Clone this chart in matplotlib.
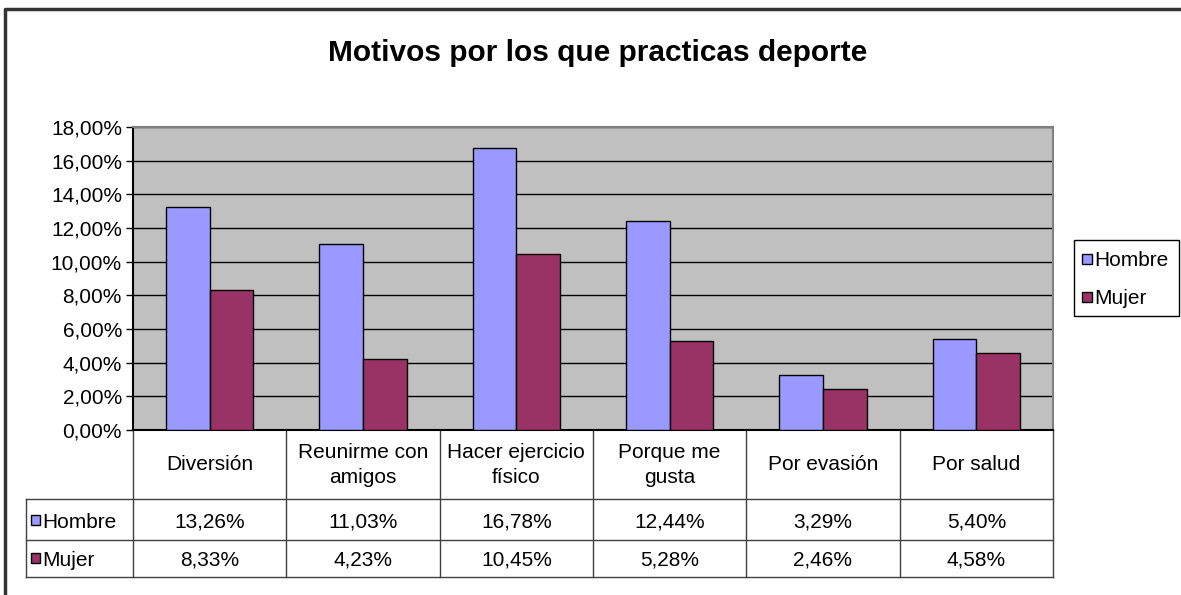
import matplotlib
matplotlib.use("Agg")
import matplotlib.pyplot as plt
from matplotlib.patches import Rectangle

plt.rcParams['font.family'] = ['Liberation Sans', 'DejaVu Sans']

# data
categorias = ["Diversión", "Reunirme con\namigos", "Hacer ejercicio\nfísico",
              "Porque me\ngusta", "Por evasión", "Por salud"]
series = ["Hombre", "Mujer"]
hombre = [13.26, 11.03, 16.78, 12.44, 3.29, 5.40]
mujer = [8.33, 4.23, 10.45, 5.28, 2.46, 4.58]
colores = ['#9999FF', '#993366']
yticks = [0, 2, 4, 6, 8, 10, 12, 14, 16, 18]

fs = 15
W, H = 1181, 595
fig = plt.figure(figsize=(W / 100, H / 100), dpi=100)
fig.patch.set_facecolor('white')

# overlay in pixel coords for frame, table and legend
ov = fig.add_axes([0, 0, 1, 1], zorder=0)
ov.set_xlim(0, W)
ov.set_ylim(H, 0)
ov.axis('off')
ov.patch.set_alpha(0)

# plot area
x0, x1, ytop, ybot = 133, 1053, 127, 430
ax = fig.add_axes([x0 / W, 1 - ybot / H, (x1 - x0) / W, (ybot - ytop) / H], zorder=1)
ax.set_facecolor('#C0C0C0')
n = len(categorias)
w = 1 / 3.5
xs = [i + 0.5 for i in range(n)]
ax.bar([x - w / 2 for x in xs], hombre, w, color=colores[0], edgecolor='black', lw=1, zorder=3)
ax.bar([x + w / 2 for x in xs], mujer, w, color=colores[1], edgecolor='black', lw=1, zorder=3)
ax.set_xlim(0, n)
ax.set_ylim(0, 18)
ax.set_yticks(yticks)
ax.set_yticklabels([f"{v:.2f}%".replace('.', ',') for v in yticks], fontsize=fs)
ax.set_xticks([])
ax.yaxis.grid(True, color='black', lw=1)
ax.set_axisbelow(True)
ax.tick_params(axis='y', length=5, width=1, pad=3)
for s in ['top', 'right']:
    ax.spines[s].set_color('#808080')
    ax.spines[s].set_linewidth(1.5)
for s in ['left', 'bottom']:
    ax.spines[s].set_color('black')
    ax.spines[s].set_linewidth(1.5)

# title
ov.text(598, 53, "Motivos por los que practicas deporte", ha='center', va='center',
        fontsize=21.5, fontweight='bold')

# outer frame (right/bottom clipped off the image)
ov.plot([5, 5, W + 5], [H + 5, 9, 9], color='#333333', lw=2.5, clip_on=False)

# data table
lc = '#404040'
tl = 26
rows_y = [430, 499, 540, 577]
colw = (x1 - x0) / n
for i in range(n + 1):
    xv = x0 + i * colw
    ov.plot([xv, xv], [430, 577], color=lc, lw=1)
ov.plot([tl, tl], [499, 577], color=lc, lw=1)
for yv in rows_y[1:]:
    ov.plot([tl, x1], [yv, yv], color=lc, lw=1)

for i, cat in enumerate(categorias):
    cx = x0 + (i + 0.5) * colw
    ov.text(cx, 465, cat, ha='center', va='center', fontsize=fs, linespacing=1.4)
    ov.text(cx, 520, f"{hombre[i]:.2f}%".replace('.', ','), ha='center', va='center_baseline', fontsize=fs)
    ov.text(cx, 558, f"{mujer[i]:.2f}%".replace('.', ','), ha='center', va='center_baseline', fontsize=fs)

for k, (nombre, col) in enumerate(zip(series, colores)):
    yc = 520 + k * 38
    ov.add_patch(Rectangle((31, yc - 5), 9, 10, facecolor=col, edgecolor='black', lw=1))
    ov.text(42, yc, nombre, ha='left', va='center_baseline', fontsize=fs)

# legend
ov.add_patch(Rectangle((1074, 240), 105, 76, facecolor='white', edgecolor='black', lw=1))
for k, (nombre, col) in enumerate(zip(series, colores)):
    yc = 259 + k * 38
    ov.add_patch(Rectangle((1082, yc - 5), 10, 10, facecolor=col, edgecolor='black', lw=1))
    ov.text(1094, yc, nombre, ha='left', va='center_baseline', fontsize=fs)

fig.savefig("out.png", dpi=100)
